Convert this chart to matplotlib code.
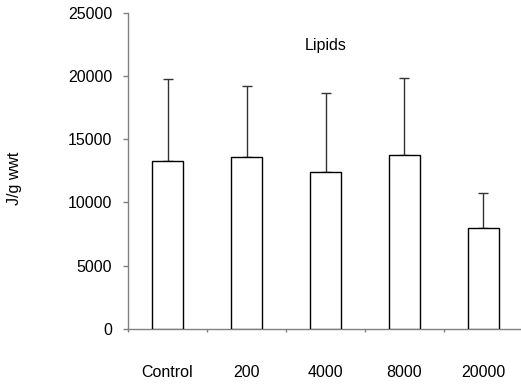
import matplotlib
matplotlib.use("Agg")
import matplotlib.pyplot as plt
import numpy as np

# Lipid energy content per treatment
categories = ["Control", "200", "4000", "8000", "20000"]
means = [13290, 13610, 12370, 13720, 7990]
errors = [6440, 5570, 6270, 6140, 2770]

plt.rcParams["font.family"] = ["Liberation Sans", "DejaVu Sans"]
fs = 11.5

fig = plt.figure(figsize=(5.21, 3.85), dpi=100)
ax = fig.add_axes([128 / 521, 56.3 / 385, 395 / 521, 316 / 385])

x = np.arange(len(categories))
ax.bar(x, means, width=0.4, color="white", edgecolor="black", linewidth=1.0, zorder=3)
ax.errorbar(x, means, yerr=[np.zeros(len(errors)), errors], fmt="none",
            ecolor="#333333", elinewidth=1.0, capsize=3.6, capthick=1.0, zorder=2)

ax.set_xlim(-0.5, 4.5)
ax.set_ylim(0, 25000)
ax.set_yticks(range(0, 25001, 5000))

# ticks sit between the categories, labels under each bar
ax.set_xticks(np.arange(-0.5, 4.6, 1.0))
ax.set_xticklabels([])
ax.set_xticks(x, minor=True)
ax.set_xticklabels(categories, minor=True)
ax.tick_params(axis="x", which="major", direction="out", length=2.5, color="#808080", width=1)
ax.tick_params(axis="x", which="minor", length=0, pad=26, labelsize=fs)
ax.tick_params(axis="y", direction="out", length=3.5, color="#808080", width=1, pad=8, labelsize=fs)

for side in ["top", "right"]:
    ax.spines[side].set_visible(False)
for side in ["left", "bottom"]:
    ax.spines[side].set_color("#808080")
    ax.spines[side].set_linewidth(1.0)

ax.text(0.5, 0.895, "Lipids", transform=ax.transAxes, ha="center", va="center", fontsize=fs)
fig.text(14 / 521, 1 - 178 / 385, "J/g wwt", rotation=90, ha="center", va="center", fontsize=fs)

fig.savefig("out.png", dpi=100)
